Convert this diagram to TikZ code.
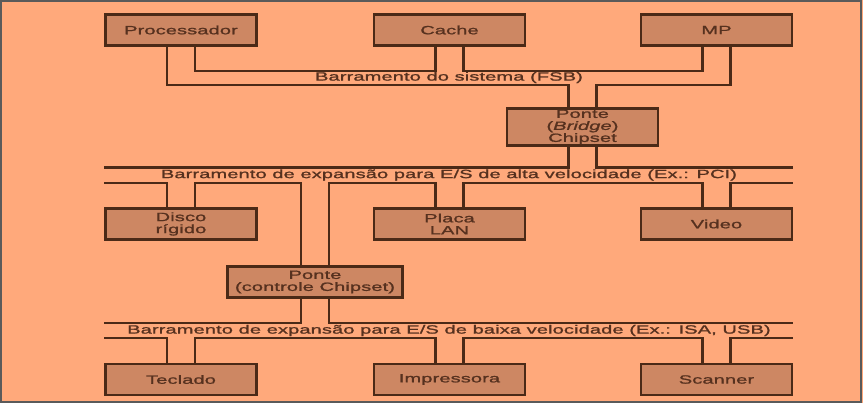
\documentclass[tikz,border=0pt]{standalone}
\usepackage{fontspec}
\setmainfont{Liberation Sans}[FakeStretch=1.67,FakeBold=1.4,LetterSpace=1]
\definecolor{bg}{HTML}{FFA97B}
\definecolor{boxfill}{HTML}{CD8763}
\definecolor{linec}{HTML}{4B2A17}
\definecolor{textc}{HTML}{56311F}
\definecolor{framec}{HTML}{5A5A5A}
\begin{document}
\begin{tikzpicture}[x=1pt,y=-1pt,
  box/.style={draw=linec, line width=2.8pt, fill=boxfill, minimum width=151pt, minimum height=31pt, inner sep=0pt, align=center, text=textc, font=\fontsize{12}{12}\selectfont},
  bus/.style={draw=linec, line width=2.1pt},
  buslabel/.style={text=textc, inner sep=0pt, font=\fontsize{12}{12}\selectfont}]
\fill[bg] (0,0) rectangle (863,403);
\useasboundingbox (0,0) rectangle (863,403);
\draw[framec, line width=1.6pt] (0.8,0.8) rectangle (861,402.2);

% bus levels and ends
\coordinate (fsbU) at (0,71);
\coordinate (fsbL) at (0,85);
\coordinate (pciU) at (0,167.5);
\coordinate (pciL) at (0,183);
\coordinate (isaU) at (0,323);
\coordinate (isaL) at (0,338);
\coordinate (Lx) at (104,0);
\coordinate (Rx) at (793,0);

% boxes
\node[box] (proc) at (181,30) {Processador};
\node[box] (cache) at (449.5,30) {Cache};
\node[box] (mp) at (716.5,30) {MP};
\node[box, minimum height=37pt] (bridge) at (582.5,127) {Ponte\\(\textit{Bridge})\\Chipset};
\node[box] (disco) at (181,224) {Disco\\rígido};
\node[box] (lan) at (449.5,224) {Placa\\LAN};
\node[box] (video) at (716.5,224) {Video};
\node[box, minimum width=175pt] (pc) at (315,282) {Ponte\\(controle Chipset)};
\node[box] (tec) at (181,379.5) {Teclado};
\node[box] (imp) at (449.5,379.5) {Impressora};
\node[box] (scan) at (716.5,379.5) {Scanner};

% legs
\foreach \n in {proc,cache,mp,disco,lan,video,tec,imp,scan,bridge,pc}{
  \coordinate (\n-s1) at ([xshift=-14pt]\n.south);
  \coordinate (\n-s2) at ([xshift=14pt]\n.south);
  \coordinate (\n-n1) at ([xshift=-14pt]\n.north);
  \coordinate (\n-n2) at ([xshift=14pt]\n.north);
}

% system bus (FSB)
\draw[bus] (proc-s2) -- (proc-s2|-fsbU) -- (cache-s1|-fsbU) -- (cache-s1);
\draw[bus] (cache-s2) -- (cache-s2|-fsbU) -- (mp-s1|-fsbU) -- (mp-s1);
\draw[bus] (proc-s1) -- (proc-s1|-fsbL) -- (bridge-n1|-fsbL) -- (bridge-n1);
\draw[bus] (mp-s2) -- (mp-s2|-fsbL) -- (bridge-n2|-fsbL) -- (bridge-n2);
\node[buslabel] (fsb) at (449,77.5) {Barramento do sistema (FSB)};

% high speed bus (PCI)
\draw[bus] (Lx|-pciU) -- (bridge-s1|-pciU) -- (bridge-s1);
\draw[bus] (bridge-s2) -- (bridge-s2|-pciU) -- (Rx|-pciU);
\draw[bus] (Lx|-pciL) -- (disco-n1|-pciL) -- (disco-n1);
\draw[bus] (disco-n2) -- (disco-n2|-pciL) -- (pc-n1|-pciL) -- (pc-n1);
\draw[bus] (pc-n2) -- (pc-n2|-pciL) -- (lan-n1|-pciL) -- (lan-n1);
\draw[bus] (lan-n2) -- (lan-n2|-pciL) -- (video-n1|-pciL) -- (video-n1);
\draw[bus] (video-n2) -- (video-n2|-pciL) -- (Rx|-pciL);
\node[buslabel] (pci) at (449,175) {Barramento de expansão para E/S de alta velocidade (Ex.: PCI)};

% low speed bus (ISA, USB)
\draw[bus] (Lx|-isaU) -- (pc-s1|-isaU) -- (pc-s1);
\draw[bus] (pc-s2) -- (pc-s2|-isaU) -- (Rx|-isaU);
\draw[bus] (Lx|-isaL) -- (tec-n1|-isaL) -- (tec-n1);
\draw[bus] (tec-n2) -- (tec-n2|-isaL) -- (imp-n1|-isaL) -- (imp-n1);
\draw[bus] (imp-n2) -- (imp-n2|-isaL) -- (scan-n1|-isaL) -- (scan-n1);
\draw[bus] (scan-n2) -- (scan-n2|-isaL) -- (Rx|-isaL);
\node[buslabel] (isa) at (449,330.5) {Barramento de expansão para E/S de baixa velocidade (Ex.: ISA, USB)};
\end{tikzpicture}
\end{document}
